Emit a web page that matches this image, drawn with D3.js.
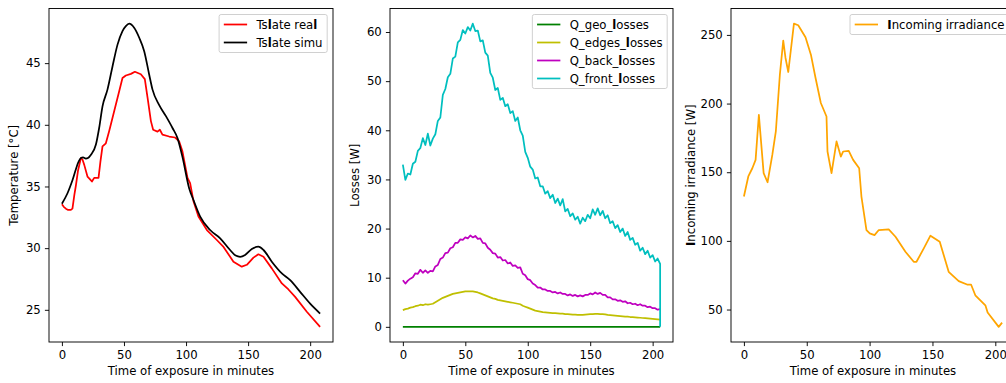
<!DOCTYPE html>
<html>
<head>
<meta charset="utf-8">
<script src="https://cdn.jsdelivr.net/npm/d3@7"></script>
<style>
  body { margin: 0; background: #fff; }
  svg { display: block; }
</style>
</head>
<body>
<svg width="1006" height="383"></svg>
<script>
// ---- data ----
const xTicks = [0, 50, 100, 150, 200];
const tempTicks = [25, 30, 35, 40, 45];
const lossTicks = [0, 10, 20, 30, 40, 50, 60];
const irrTicks = [50, 100, 150, 200, 250];

const realTimes = [0, 1.5, 3.2, 5, 7.2, 8.5, 10, 11.3, 13, 15.3, 16.5, 18, 20.6, 22.5, 24.2, 26, 29.5, 31, 32.7, 35.4,
  38.1, 42.1, 46.1, 48.8, 51.5, 55.6, 58.8, 63.6, 66.8, 69, 71.7, 73.5, 77, 78.9, 81, 86.4, 91.2, 94.5, 97.1, 101.2,
  103.3, 106, 110, 116.8, 124.8, 130.2, 138.2, 144.9, 149, 154.3, 158.3, 162.4, 169.1, 177.2, 182.5, 187.9, 197.3, 208];
const tslateReal = [33.56, 33.35, 33.2, 33.1, 33.1, 33.2, 34.3, 35.1, 36.3, 37.3, 37.2, 36.75, 35.8, 35.6, 35.4, 35.7, 35.7, 37.0, 38.25, 38.5,
  39.5, 41.1, 42.7, 43.8, 44.0, 44.13, 44.3, 44.1, 43.7, 42.2, 40.3, 39.6, 39.45, 39.6, 39.2, 39.05, 38.97, 38.65, 37.85, 35.7,
  35.27, 33.8, 32.56, 31.47, 30.66, 30.1, 28.9, 28.5, 28.65, 29.23, 29.5, 29.3, 28.36, 27.14, 26.65, 26.05, 24.84, 23.62];

const simuTimes = [0, 4.5, 8.5, 13.4, 15.3, 17, 19.3, 21, 23.4, 27.4, 30, 32.7, 36.7, 40.8, 44.8, 48.8, 51.5, 54.2, 58.2, 62.3,
  66.3, 70.3, 73, 78.4, 83.8, 89.1, 93.2, 97.1, 102.5, 106, 111.4, 119.4, 127.5, 135.5, 140, 143.6, 147.6, 153, 158.3, 162.4,
  169.1, 177.2, 183.9, 191.9, 200, 208];
const tslateSimu = [33.6, 34.45, 35.5, 37.0, 37.3, 37.35, 37.25, 37.3, 37.57, 38.4, 39.74, 41.5, 42.85, 44.75, 46.5, 47.6, 48.0, 48.2, 47.87, 47.06,
  45.97, 44.08, 42.85, 41.6, 40.7, 39.74, 38.9, 37.4, 34.86, 33.9, 32.56, 31.47, 30.8, 29.85, 29.4, 29.3, 29.45, 29.93, 30.12, 29.85,
  28.9, 27.95, 27.4, 26.46, 25.5, 24.7];

// losses sampled every 2 minutes, 0..206
const lossTimes = d3.range(0, 207, 2);
const geoTimes = [0, 206];
const geoLosses = [0, 0];
const edgesLosses = [
  3.4, 3.6, 3.7, 3.9, 4.0, 4.2, 4.3, 4.5, 4.4, 4.6,
  4.5, 4.6, 4.7, 5.0, 5.3, 5.6, 5.9, 6.1, 6.3, 6.5,
  6.7, 6.8, 6.9, 7.0, 7.1, 7.2, 7.2, 7.2, 7.2, 7.1,
  7.0, 6.8, 6.6, 6.4, 6.2, 6.0, 5.8, 5.7, 5.5, 5.4,
  5.3, 5.2, 5.1, 5.0, 4.9, 4.8, 4.7, 4.6, 4.3, 4.1,
  3.9, 3.7, 3.5, 3.3, 3.2, 3.1, 3.0, 2.95, 2.9, 2.85,
  2.8, 2.8, 2.75, 2.7, 2.7, 2.6, 2.6, 2.55, 2.5, 2.5,
  2.45, 2.45, 2.45, 2.5, 2.55, 2.6, 2.6, 2.65, 2.65, 2.6,
  2.6, 2.55, 2.45, 2.4, 2.35, 2.3, 2.25, 2.2, 2.15, 2.1,
  2.1, 2.0, 2.0, 1.95, 1.9, 1.85, 1.8, 1.75, 1.7, 1.65,
  1.6, 1.55, 1.5, 1.45];
const backLosses = [
  9.5, 8.8, 9.4, 9.8, 10.1, 10.9, 10.8, 11.6, 11.0, 11.5,
  11.0, 11.4, 11.3, 12.3, 12.6, 13.8, 14.1, 15.0, 15.1, 16.0,
  16.2, 17.1, 17.1, 17.8, 17.7, 18.2, 18.0, 18.6, 18.2, 18.5,
  17.9, 18.0, 17.1, 17.0, 16.1, 15.7, 15.0, 14.9, 14.1, 14.2,
  13.5, 13.6, 12.9, 13.1, 12.4, 12.5, 12.0, 12.1, 10.8, 10.5,
  9.7, 9.5, 8.8, 8.5, 8.0, 8.0, 7.6, 7.6, 7.3, 7.3,
  7.0, 7.1, 6.8, 7.0, 6.7, 6.7, 6.4, 6.6, 6.3, 6.5,
  6.2, 6.4, 6.2, 6.5, 6.5, 6.8, 6.6, 7.0, 6.7, 6.9,
  6.5, 6.5, 6.0, 6.0, 5.6, 5.6, 5.3, 5.4, 5.1, 5.2,
  4.8, 4.9, 4.6, 4.7, 4.4, 4.6, 4.3, 4.3, 4.0, 4.1,
  3.8, 3.8, 3.5, 3.6];
const frontTimes = lossTimes.concat([206]);
const frontLosses = [
  33.0, 29.9, 31.2, 31.0, 33.2, 33.6, 35.8, 36.4, 38.4, 37.0,
  39.3, 36.9, 38.3, 39.2, 41.9, 42.6, 47.2, 48.4, 50.8, 51.5,
  54.6, 55.0, 57.9, 58.4, 60.4, 59.7, 61.0, 60.3, 61.7, 60.2,
  60.3, 58.1, 58.3, 55.8, 55.2, 51.7, 50.7, 48.2, 48.6, 46.2,
  46.6, 44.9, 45.3, 43.5, 43.9, 41.9, 42.6, 40.0, 38.9, 35.6,
  34.4, 32.6, 32.0, 30.2, 30.4, 28.6, 28.6, 27.1, 27.6, 26.2,
  26.9, 25.2, 26.1, 24.7, 26.0, 23.5, 24.0, 22.5, 23.1, 21.8,
  22.4, 21.0, 22.2, 21.5, 22.8, 22.1, 23.9, 22.8, 24.1, 22.7,
  23.6, 22.1, 22.7, 21.1, 21.5, 20.1, 20.7, 19.3, 20.0, 18.5,
  19.3, 17.7, 18.1, 16.7, 17.1, 15.5, 16.1, 14.8, 15.5, 14.1,
  14.6, 13.3, 13.9, 12.8, 0];

const irrTimes = [0, 3.5, 6.7, 9.3, 11.9, 15.7, 18.8, 22.6, 25.4, 28.6, 31.3, 33.1, 35.3, 39.8, 43.2, 49, 53.3, 57, 61.2, 65.7,
  66.5, 69.7, 73.7, 77.1, 79, 83.4, 86.9, 91.7, 93.5, 97.5, 100.1, 103.9, 107.3, 115.2, 120.6, 128.5, 135.1, 137.3, 143.1, 148.4,
  155.8, 162.9, 170.9, 177.5, 180.7, 184.1, 192.1, 193.9, 202.7, 205.4];
const irradiance = [132.3, 146.9, 152.9, 159, 191.8, 149.3, 142.7, 162.6, 179.7, 221, 245.9, 233.2, 223, 258.2, 257, 248.3, 235.6, 218.6, 200.4, 190.6,
  165.1, 149.3, 172.4, 161.4, 165.1, 165.6, 159, 152.9, 132.3, 107.9, 105.5, 104.2, 107.9, 108.4, 103, 92.1, 84.8, 84.8, 94.5, 103.8,
  99.4, 77.5, 70.7, 68.2, 68.2, 60.4, 53.1, 47.8, 37.4, 40.5];

// ---- layout ----
const TOP = 8.5, BOTTOM = 342;
const FS = 11.7;
const FONT = 'DejaVu Sans';

const svg = d3.select('svg');

function padded(ext) {
  const d = (ext[1] - ext[0]) * 0.05;
  return [ext[0] - d, ext[1] + d];
}

// some glyphs came out bold in the original render
function richText(sel, str) {
  str.split(/([lI])/).filter(s => s).forEach(s => {
    sel.append('tspan').attr('font-weight', (s === 'l' || s === 'I') ? 'bold' : null).text(s);
  });
}

function drawPanel(cfg, idx) {
  const allT = d3.merge(cfg.series.map(s => s.times));
  const allV = d3.merge(cfg.series.map(s => s.values));
  const x = d3.scaleLinear().domain(padded(d3.extent(allT))).range([cfg.left, cfg.right]);
  const y = d3.scaleLinear().domain(padded(d3.extent(allV))).range([BOTTOM, TOP]);

  const g = svg.append('g');

  g.append('clipPath').attr('id', 'clip' + idx)
    .append('rect').attr('x', cfg.left).attr('y', TOP)
    .attr('width', cfg.right - cfg.left).attr('height', BOTTOM - TOP);

  const plot = g.append('g').attr('clip-path', `url(#clip${idx})`);
  cfg.series.forEach(s => {
    const pts = s.times.map((t, i) => [t, s.values[i]]);
    const line = d3.line().x(d => x(d[0])).y(d => y(d[1]));
    if (s.smooth) line.curve(d3.curveMonotoneX);
    plot.append('path').datum(pts)
      .attr('d', line)
      .attr('fill', 'none')
      .attr('stroke', s.color)
      .attr('stroke-width', 1.75)
      .attr('stroke-linejoin', 'round');
  });

  // axes
  const gx = g.append('g')
    .attr('transform', `translate(0,${BOTTOM})`)
    .call(d3.axisBottom(x).tickValues(xTicks).tickSize(4.1).tickPadding(4.1).tickSizeOuter(0));
  const gy = g.append('g')
    .attr('transform', `translate(${cfg.left},0)`)
    .call(d3.axisLeft(y).tickValues(cfg.yTicks).tickSize(4.1).tickPadding(4.1).tickSizeOuter(0));
  [gx, gy].forEach(a => {
    a.select('.domain').remove();
    a.attr('font-size', FS).attr('font-family', FONT);
    a.selectAll('line').attr('stroke', '#000').attr('stroke-width', 0.93);
    a.selectAll('text').attr('fill', '#000');
  });

  g.append('rect')
    .attr('x', cfg.left).attr('y', TOP)
    .attr('width', cfg.right - cfg.left).attr('height', BOTTOM - TOP)
    .attr('fill', 'none').attr('stroke', '#000').attr('stroke-width', 0.93);

  g.append('text')
    .attr('x', (cfg.left + cfg.right) / 2).attr('y', 375)
    .attr('text-anchor', 'middle')
    .attr('font-size', FS).attr('font-family', FONT)
    .text('Time of exposure in minutes');

  const yl = g.append('text')
    .attr('transform', `translate(${cfg.ylabelX},${(TOP + BOTTOM) / 2}) rotate(-90)`)
    .attr('text-anchor', 'middle')
    .attr('font-size', FS).attr('font-family', FONT);
  richText(yl, cfg.ylabel);

  // legend, upper right
  const lg = g.append('g');
  const rowH = 18;
  const box = lg.append('rect');
  let maxW = 0;
  cfg.series.forEach((s, i) => {
    const cy = 10 + i * rowH;
    lg.append('line')
      .attr('x1', 4.7).attr('x2', 28).attr('y1', cy).attr('y2', cy)
      .attr('stroke', s.color).attr('stroke-width', 1.75);
    const t = lg.append('text')
      .attr('x', 37.3).attr('y', cy).attr('dy', '0.36em')
      .attr('font-size', FS).attr('font-family', FONT);
    richText(t, s.label);
    maxW = Math.max(maxW, t.node().getComputedTextLength());
  });
  const bw = 37.3 + maxW + 4.7;
  const bh = 20 + (cfg.series.length - 1) * rowH;
  box.attr('width', bw).attr('height', bh).attr('rx', 2)
    .attr('fill', '#fff').attr('fill-opacity', 0.8)
    .attr('stroke', '#cccccc').attr('stroke-width', 0.93);
  lg.attr('transform', `translate(${cfg.right - 5.8 - bw},${TOP + 6})`);
}

const panels = [
  {
    left: 49, right: 333, yTicks: tempTicks, ylabel: 'Temperature [°C]', ylabelX: 17.5,
    series: [
      { times: realTimes, values: tslateReal, color: '#ff0000', label: 'Tslate real' },
      { times: simuTimes, values: tslateSimu, color: '#000000', label: 'Tslate simu', smooth: true },
    ],
  },
  {
    left: 390, right: 673, yTicks: lossTicks, ylabel: 'Losses [W]', ylabelX: 359,
    series: [
      { times: geoTimes, values: geoLosses, color: '#008000', label: 'Q_geo_losses' },
      { times: lossTimes, values: edgesLosses, color: '#bfbf00', label: 'Q_edges_losses' },
      { times: lossTimes, values: backLosses, color: '#bf00bf', label: 'Q_back_losses' },
      { times: frontTimes, values: frontLosses, color: '#00bfbf', label: 'Q_front_losses' },
    ],
  },
  {
    left: 731, right: 1015, yTicks: irrTicks, ylabel: 'Incoming irradiance [W]', ylabelX: 695,
    series: [
      { times: irrTimes, values: irradiance, color: '#ffa500', label: 'Incoming irradiance' },
    ],
  },
];

panels.forEach(drawPanel);
</script>
</body>
</html>
